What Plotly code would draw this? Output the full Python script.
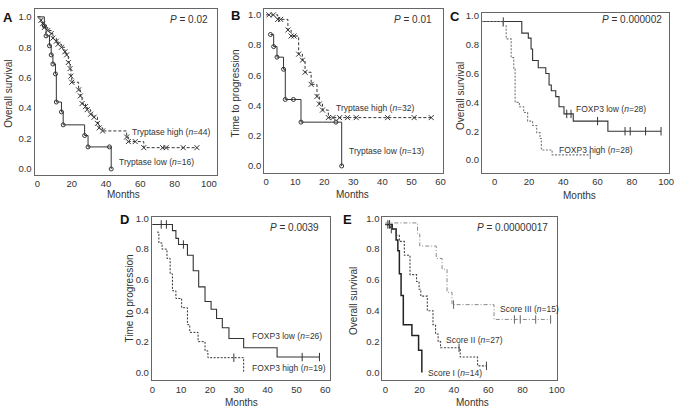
import plotly.graph_objects as go

W, H = 685, 409
FONT = "Liberation Sans, Arial, sans-serif"

# ---------------- Panel A : Tryptase, overall survival ----------------
A_low_t = [0, 4, 5, 7, 8, 9, 10.5, 11, 14, 15, 27.5, 29.5, 42, 43]
A_low_s = [1.0, 0.94, 0.875, 0.81, 0.75, 0.69, 0.625, 0.44, 0.375, 0.29, 0.22, 0.145, 0.145, 0.0]
A_high_t = [0, 2, 3, 4, 6, 8, 9, 11, 12, 14, 16, 17, 18, 19, 19.5, 20, 24, 25, 26, 28, 29, 31,
            33, 35, 36, 38, 52, 53, 57, 62, 73, 75, 85, 93]
A_high_s = [1.0, 0.977, 0.955, 0.93, 0.91, 0.89, 0.86, 0.84, 0.82, 0.80, 0.77, 0.75, 0.70, 0.66,
            0.61, 0.57, 0.52, 0.48, 0.43, 0.41, 0.39, 0.36, 0.34, 0.30, 0.27, 0.25, 0.21, 0.18,
            0.18, 0.14, 0.14, 0.14, 0.14, 0.14]

# ---------------- Panel B : Tryptase, time to progression ----------------
B_low_t = [1.5, 2.6, 3.75, 6, 6.6, 9.4, 12, 24, 26]
B_low_s = [0.87, 0.79, 0.72, 0.64, 0.44, 0.44, 0.29, 0.29, 0.0]
B_high_t = [0, 1, 2.5, 4, 5, 7.5, 8.6, 9.6, 11.2, 12.5, 13.4, 15.5, 17.5, 18.3, 19.4, 21.4,
            23, 25.3, 28, 31, 41.8, 50.9, 56.8]
B_high_s = [1.0, 1.0, 1.0, 0.97, 0.97, 0.90, 0.86, 0.86, 0.74, 0.70, 0.62, 0.54, 0.46, 0.41,
            0.37, 0.32, 0.32, 0.32, 0.32, 0.32, 0.32, 0.32, 0.32]

# ---------------- Panel C : FOXP3, overall survival ----------------
C_low_t = [-7.5, 15.8, 19.6, 21.2, 22.1, 25.4, 29.8, 31.7, 33, 35.6, 37.5, 40.4, 45.8, 66, 97]
C_low_s = [0.96, 0.88, 0.845, 0.77, 0.69, 0.64, 0.60, 0.52, 0.48, 0.44, 0.37, 0.32, 0.27, 0.20, 0.20]
C_low_cens = [5, 42, 44.5, 60, 76, 79, 88, 97]
C_high_t = [-7.5, 4.8, 6.7, 9.6, 11.1, 11.9, 14.4, 16.9, 19.2, 22.1, 24.5, 26.4, 27.2, 33.5, 55.7]
C_high_s = [0.96, 0.93, 0.84, 0.71, 0.63, 0.40, 0.37, 0.33, 0.27, 0.24, 0.19, 0.15, 0.07, 0.036, 0.036]
C_high_cens = [55.7]

# ---------------- Panel D : FOXP3, time to progression ----------------
D_low_t = [0, 7.0, 8.2, 9.1, 12.2, 14.2, 16.1, 18.3, 20.4, 22.3, 24.3, 26.6, 31.7, 43.3, 58]
D_low_s = [0.96, 0.92, 0.87, 0.83, 0.76, 0.66, 0.555, 0.46, 0.41, 0.35, 0.29, 0.22, 0.16, 0.10, 0.10]
D_low_cens = [3.1, 4.9, 10.8, 52, 58]
D_high_t = [1.7, 2.3, 3.4, 5.1, 6.2, 7.0, 8.2, 10.2, 12.2, 13.0, 15.9, 18.3, 19.3, 31.7]
D_high_s = [0.91, 0.84, 0.80, 0.74, 0.64, 0.53, 0.48, 0.42, 0.31, 0.26, 0.20, 0.14, 0.096, 0.0]
D_high_cens = [28.3]

# ---------------- Panel E : combined score, overall survival ----------------
E_I_t = [0, 4, 6.3, 7.3, 8.2, 9.2, 10.5, 15.5, 19.4, 21.3]
E_I_s = [0.96, 0.93, 0.86, 0.79, 0.64, 0.50, 0.31, 0.24, 0.144, 0.0]
E_I_cens = [1.5, 2.5]
E_II_t = [0, 3, 6.3, 8.2, 11.1, 14.4, 18.2, 19.7, 20.7, 24.5, 27.8, 29.3, 30.8, 32.2, 43.7, 53.8, 59.0]
E_II_s = [0.96, 0.93, 0.89, 0.85, 0.76, 0.635, 0.59, 0.54, 0.495, 0.40, 0.31, 0.25, 0.20, 0.16,
          0.10, 0.043, 0.043]
E_II_cens = [3.5, 43, 59]
E_III_t = [0, 18.8, 20.1, 29.7, 33.1, 36.0, 38.9, 63.4, 96.4]
E_III_s = [0.97, 0.90, 0.82, 0.74, 0.67, 0.52, 0.44, 0.344, 0.344]
E_III_cens = [39.8, 75.3, 78.7, 87.7, 96.4]

Y_TICKS = [0.0, 0.2, 0.4, 0.6, 0.8, 1.0]
X_TICKS_100 = [0, 20, 40, 60, 80, 100]
X_TICKS_60 = [0, 10, 20, 30, 40, 50, 60]

fig = go.Figure()


def surv_at(t, times, surv):
    val = surv[0]
    for ti, si in zip(times, surv):
        if ti <= t:
            val = si
    return val


def curve(t, s, ax, color, dash="solid", width=1.0):
    fig.add_trace(go.Scatter(x=t, y=s, mode="lines",
                             line=dict(shape="hv", color=color, dash=dash, width=width),
                             xaxis="x" + ax, yaxis="y" + ax, showlegend=False, hoverinfo="skip"))


def marks(t, y, ax, color, symbol, size=5):
    fig.add_trace(go.Scatter(x=t, y=y, mode="markers",
                             marker=dict(symbol=symbol, size=size, color=color,
                                         line=dict(color=color, width=1)),
                             xaxis="x" + ax, yaxis="y" + ax, showlegend=False, hoverinfo="skip"))


def censors(c, t, s, ax, color):
    marks(c, [surv_at(ci, t, s) for ci in c], ax, color, "line-ns-open", 6)


# A
curve(A_low_t, A_low_s, "", "#333")
marks(A_low_t[1:], A_low_s[1:], "", "#333", "circle-open", 4)
curve(A_high_t, A_high_s, "", "#333", "3px,2px")
marks(A_high_t[1:], A_high_s[1:], "", "#333", "x-thin-open", 5)
# B
curve(B_low_t, B_low_s, "2", "#333")
marks(B_low_t, B_low_s, "2", "#333", "circle-open", 4)
curve(B_high_t, B_high_s, "2", "#333", "3px,2px")
marks(B_high_t[1:], B_high_s[1:], "2", "#333", "x-thin-open", 5)
# C
curve(C_low_t, C_low_s, "3", "#333", "solid", 1.1)
censors(C_low_cens, C_low_t, C_low_s, "3", "#333")
curve(C_high_t, C_high_s, "3", "#777", "2px,1.5px", 1.1)
censors(C_high_cens, C_high_t, C_high_s, "3", "#777")
# D
curve(D_low_t, D_low_s, "4", "#333", "solid", 1.1)
censors(D_low_cens, D_low_t, D_low_s, "4", "#333")
curve(D_high_t, D_high_s, "4", "#333", "2px,1.5px", 1.0)
censors(D_high_cens, D_high_t, D_high_s, "4", "#333")
# E
curve(E_I_t, E_I_s, "5", "#222", "solid", 1.5)
censors(E_I_cens, E_I_t, E_I_s, "5", "#222")
curve(E_II_t, E_II_s, "5", "#444", "2px,1.5px", 1.1)
censors(E_II_cens, E_II_t, E_II_s, "5", "#444")
curve(E_III_t, E_III_s, "5", "#888", "4px,2px,1px,2px", 1.0)
censors(E_III_cens, E_III_t, E_III_s, "5", "#666")


def px_dom_x(a, b):
    return [a / W, b / W]


def px_dom_y(top, bottom):
    return [1 - bottom / H, 1 - top / H]


def axis(dom, rng, ticks, fmt, anchor):
    return dict(domain=dom, range=rng, tickvals=ticks, tickformat=fmt, showline=True, mirror=True,
                linecolor="#666", linewidth=1, ticks="",
                showgrid=False, zeroline=False, anchor=anchor, fixedrange=True,
                tickfont=dict(size=9.5, color="#333", family=FONT))


panels = {
    "": dict(x=(33, 218), y=(4, 172), xr=[-1.72, 104.6], yr=[-0.039, 1.052], xt=X_TICKS_100),
    "2": dict(x=(266, 448), y=(4, 170), xr=[-0.68, 61.0], yr=[-0.046, 1.039], xt=X_TICKS_60),
    "3": dict(x=(487, 677), y=(8, 170), xr=[-7.47, 101.7], yr=[-0.089, 1.02], xt=X_TICKS_100),
    "4": dict(x=(152, 333), y=(215, 380), xr=[-0.17, 61.7], yr=[-0.051, 1.006], xt=X_TICKS_60),
    "5": dict(x=(386, 563), y=(215, 380), xr=[-1.72, 100.0], yr=[-0.051, 1.006], xt=X_TICKS_100),
}
layout = {}
for k, p in panels.items():
    layout["xaxis" + k] = axis(px_dom_x(*p["x"]), p["xr"], p["xt"], "d", "y" + k)
    layout["yaxis" + k] = axis(px_dom_y(*p["y"]), p["yr"], Y_TICKS, ".1f", "x" + k)

anns = []


def text(x, y, s, size=10, anchor="center", angle=0, bold=False, color="#333"):
    if bold:
        s = "<b>" + s + "</b>"
    anns.append(dict(x=x / W, y=1 - y / H, xref="paper", yref="paper", text=s, showarrow=False,
                     xanchor=anchor, yanchor="middle", textangle=angle,
                     font=dict(size=size, color=color, family=FONT)))


# panel letters
text(6, 13, "A", 13, bold=True, color="#111")
text(237, 11, "B", 13, bold=True, color="#111")
text(460, 12, "C", 13, bold=True, color="#111")
text(124, 217, "D", 13, bold=True, color="#111")
text(351, 217, "E", 13, bold=True, color="#111")
# y titles
text(7, 90, "Overall survival", 10, angle=-90)
text(237, 90, "Time to progression", 10, angle=-90)
text(466, 92, "Overall survival", 10, angle=-90)
text(129, 297, "Time to progression", 10, angle=-90)
text(357, 300, "Overall survival", 10, angle=-90)
# x titles
text(123, 192, "Months", 10)
text(356, 192, "Months", 10)
text(586, 193, "Months", 10)
text(243, 402, "Months", 10)
text(477, 402, "Months", 10)
# P values
text(211, 15, "<i>P</i> = 0.02", 10, anchor="right")
text(438, 15, "<i>P</i> = 0.01", 10, anchor="right")
text(672, 15, "<i>P</i> = 0.000002", 10, anchor="right")
text(324, 225, "<i>P</i> = 0.0039", 10, anchor="right")
text(556, 225, "<i>P</i> = 0.00000017", 10, anchor="right")
# curve labels
text(130, 129, "Tryptase high (<i>n</i>=44)", 8.5, anchor="left")
text(117, 159, "Tryptase low (<i>n</i>=16)", 8.5, anchor="left")
text(337, 104, "Tryptase high (<i>n</i>=32)", 8.5, anchor="left")
text(350, 148, "Tryptase low (<i>n</i>=13)", 8.5, anchor="left")
text(580, 105, "FOXP3 low (<i>n</i>=28)", 8.5, anchor="left")
text(563, 147, "FOXP3 high (<i>n</i>=28)", 8.5, anchor="left")
text(252, 335, "FOXP3 low (<i>n</i>=26)", 8.5, anchor="left")
text(252, 367, "FOXP3 high (<i>n</i>=19)", 8.5, anchor="left")
text(503, 308, "Score III (<i>n</i>=15)", 8.5, anchor="left")
text(449, 339, "Score II (<i>n</i>=27)", 8.5, anchor="left")
text(430, 373, "Score I (<i>n</i>=14)", 8.5, anchor="left")

fig.update_layout(width=W, height=H, margin=dict(l=0, r=0, t=0, b=0), paper_bgcolor="white",
                  plot_bgcolor="white", annotations=anns, showlegend=False,
                  font=dict(family=FONT, color="#333"), **layout)

fig.write_html("out.html", config={"displayModeBar": False, "staticPlot": True},
               post_script="document.body.style.margin='0px';")
